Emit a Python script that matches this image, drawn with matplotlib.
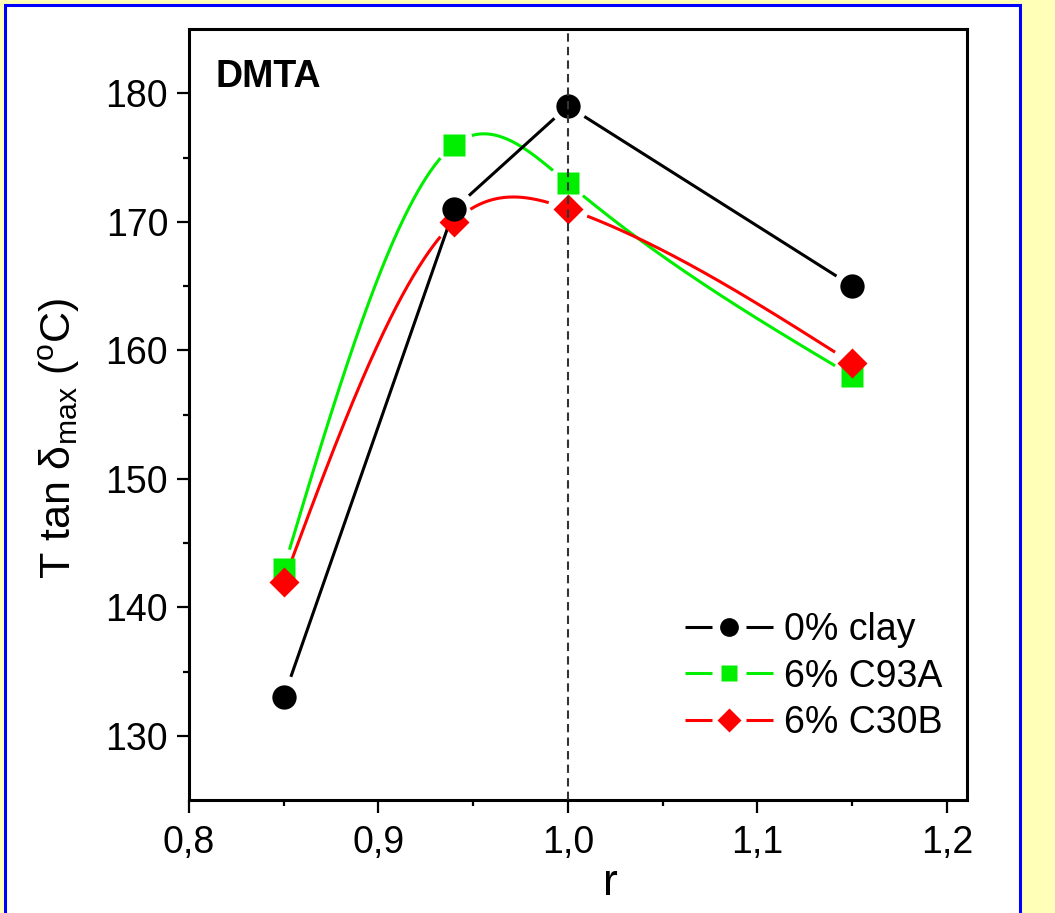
import numpy as np
import matplotlib
matplotlib.use("Agg")
import matplotlib.pyplot as plt
from matplotlib.patches import Rectangle
from matplotlib.lines import Line2D
from matplotlib.legend_handler import HandlerBase

plt.rcParams['font.family'] = ['Liberation Sans', 'DejaVu Sans']
plt.rcParams['mathtext.fontset'] = 'custom'
plt.rcParams['mathtext.rm'] = 'Liberation Sans'
plt.rcParams['mathtext.it'] = 'Liberation Sans'

r = [0.85, 0.94, 1.00, 1.15]
clay0 = [133, 171, 179, 165]
c93a = [143, 176, 173, 158]
c30b = [142, 170, 171, 159]
labels = ['0% clay', '6% C93A', '6% C30B']
xticks = [0.8, 0.9, 1.0, 1.1, 1.2]
yticks = [130, 140, 150, 160, 170, 180]


def natural_spline(x, y, n=400):
    x = np.asarray(x, float); y = np.asarray(y, float)
    k = len(x); h = np.diff(x)
    A = np.zeros((k, k)); b = np.zeros(k)
    A[0, 0] = A[-1, -1] = 1
    for i in range(1, k - 1):
        A[i, i - 1] = h[i - 1]; A[i, i] = 2 * (h[i - 1] + h[i]); A[i, i + 1] = h[i]
        b[i] = 3 * ((y[i + 1] - y[i]) / h[i] - (y[i] - y[i - 1]) / h[i - 1])
    c = np.linalg.solve(A, b)
    xs = np.linspace(x[0], x[-1], n); ys = np.empty_like(xs)
    for j, xv in enumerate(xs):
        i = min(np.searchsorted(x, xv, side='right') - 1, k - 2)
        d = xv - x[i]
        bi = (y[i + 1] - y[i]) / h[i] - h[i] * (2 * c[i] + c[i + 1]) / 3
        di = (c[i + 1] - c[i]) / (3 * h[i])
        ys[j] = y[i] + bi * d + c[i] * d ** 2 + di * d ** 3
    return xs, ys


def straight(x, y, n=400):
    xs = np.linspace(x[0], x[-1], n)
    return xs, np.interp(xs, x, y)


fig = plt.figure(figsize=(10.55, 9.13), dpi=100)
fig.patch.set_facecolor('#FFFFB8')
fig.patches.append(Rectangle((5 / 1055, -0.05), 1015 / 1055, 1 - 5 / 913 + 0.05,
                             transform=fig.transFigure, facecolor='white',
                             edgecolor='#0000FF', linewidth=2.2, zorder=-10))

ax = fig.add_axes([189 / 1055, 1 - 800 / 913, 778 / 1055, 771 / 913])
ax.set_zorder(5)
ax.set_xlim(0.8, 1.2106)
ax.set_ylim(125, 185)

# (values, colour, marker, markersize, smooth, gap radius px)
series = [
    (c93a, '#00EE00', 's', 16, True, 19),
    (c30b, '#FF0000', 'D', 15.5, True, 20),
    (clay0, '#000000', 'o', 17.5, False, 18),
]
lw = 2.2
fig.canvas.draw()
for k, (y, col, m, ms, smooth, gap) in enumerate(series):
    xs, ys = natural_spline(r, y) if smooth else straight(r, y)
    pts = ax.transData.transform(np.column_stack([xs, ys]))
    mk = ax.transData.transform(np.column_stack([r, y]))
    dist = np.min(np.hypot(pts[:, None, 0] - mk[None, :, 0],
                           pts[:, None, 1] - mk[None, :, 1]), axis=1)
    ys = np.where(dist < gap, np.nan, ys)
    ax.plot(xs, ys, color=col, lw=lw, zorder=2 + k * 0.1, solid_capstyle='butt')
for k, (y, col, m, ms, smooth, gap) in enumerate(series):
    ax.plot(r, y, ls='none', marker=m, ms=ms, mfc=col, mec='none', zorder=4 + k)

ax.axvline(1.0, color='#333333', lw=1.5, ls=(0, (4, 2.5)), zorder=10)

ax.set_xticks(xticks)
ax.set_xticklabels([f'{v:.1f}'.replace('.', ',') for v in xticks])
ax.set_xticks([0.85, 0.95, 1.05, 1.15], minor=True)
ax.set_yticks(yticks)
ax.set_yticks([135, 145, 155, 165, 175], minor=True)
ax.tick_params(which='both', direction='out', width=1.6, labelsize=27, top=False, right=False)
ax.tick_params(which='major', length=9, pad=6)
ax.tick_params(axis='x', which='major', pad=9)
ax.tick_params(which='minor', length=4.5)
for s in ax.spines.values():
    s.set_linewidth(2.2)

ax.set_xlabel('r', fontsize=32)
ax.xaxis.set_label_coords((610 - 189) / 778, -0.082)
ax.set_ylabel(r'T tan $\mathregular{\delta_{max}}$ ($\mathregular{^o}$C)', fontsize=31)
ax.yaxis.set_label_coords(-0.137, 0.4695)

ax.text(215 / 1055, 1 - 87 / 913, 'DMTA', transform=fig.transFigure, fontsize=27,
        fontweight='bold', zorder=20)


class GapHandler(HandlerBase):
    def create_artists(self, legend, orig_handle, xdescent, ydescent, width, height,
                       fontsize, trans):
        col, m, ms = orig_handle
        yc = height / 2 - ydescent
        x0 = -xdescent
        seg = 0.31 * width
        l1 = Line2D([x0, x0 + seg], [yc, yc], color=col, lw=lw, solid_capstyle='butt')
        l2 = Line2D([x0 + width - seg, x0 + width], [yc, yc], color=col, lw=lw,
                    solid_capstyle='butt')
        p = Line2D([x0 + width / 2], [yc], ls='none', marker=m, ms=ms, mfc=col, mec='none')
        for a in (l1, l2, p):
            a.set_transform(trans)
        return [l1, l2, p]


leg_handles = [('#000000', 'o', 13.5), ('#00EE00', 's', 11.5), ('#FF0000', 'D', 11.8)]
leg = ax.legend(leg_handles, labels, handler_map={tuple: GapHandler()},
                loc='upper left', bbox_to_anchor=(685 / 1055, 1 - 612 / 913),
                bbox_transform=fig.transFigure, borderpad=0, borderaxespad=0,
                frameon=False, fontsize=27, handlelength=2.35,
                handletextpad=0.3, labelspacing=0.28)

fig.savefig('out.png', dpi=100, facecolor=fig.get_facecolor())
